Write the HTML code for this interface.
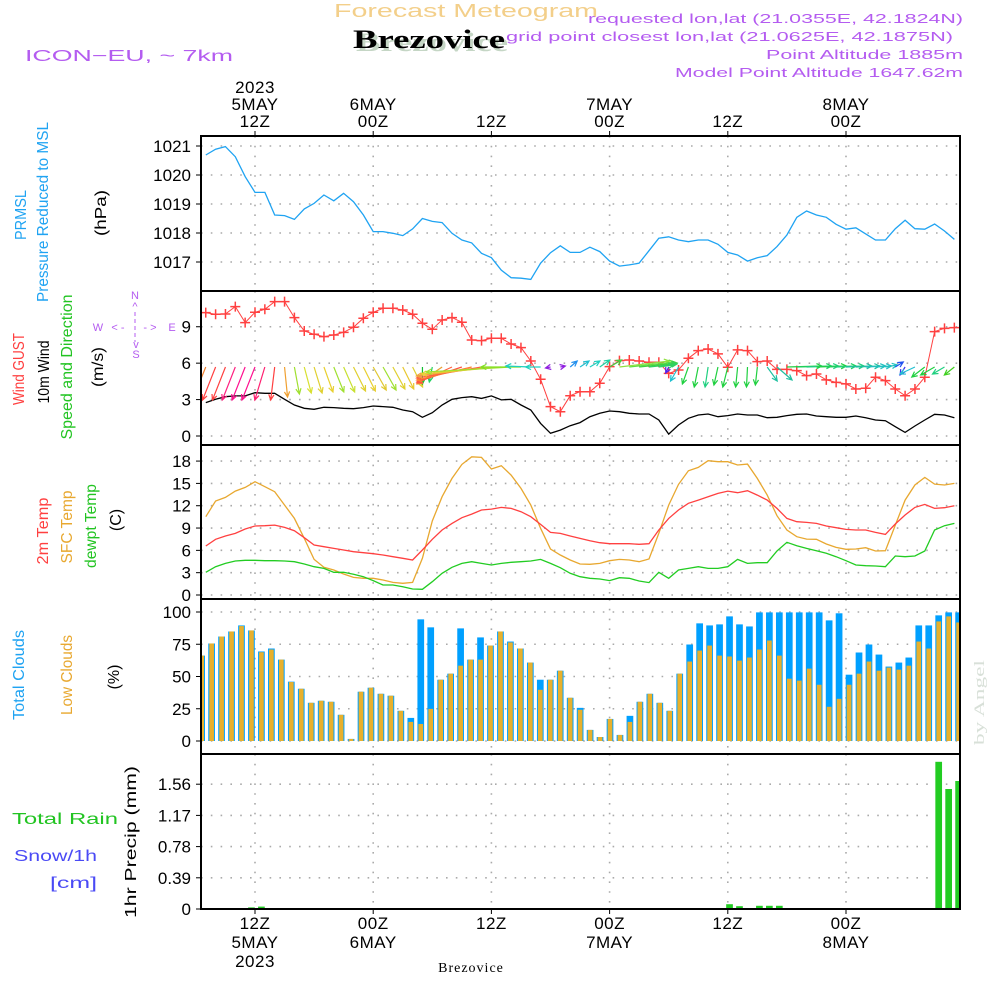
<!DOCTYPE html>
<html><head><meta charset="utf-8"><title>Meteogram Brezovice</title>
<style>
html,body{margin:0;padding:0;background:#fff;}
svg{display:block;font-family:"Liberation Sans",sans-serif;}
</style></head>
<body>
<svg id="chart" width="1000" height="1000" viewBox="0 0 1000 1000" xmlns="http://www.w3.org/2000/svg">
<defs>
<clipPath id="cp1"><rect x="201" y="136" width="759" height="155"/></clipPath>
<clipPath id="cp2"><rect x="201" y="291" width="759" height="154"/></clipPath>
<clipPath id="cp3"><rect x="201" y="445" width="759" height="154"/></clipPath>
<clipPath id="cp4"><rect x="201" y="599" width="759" height="155"/></clipPath>
<clipPath id="cp5"><rect x="201" y="754" width="759" height="155"/></clipPath>
</defs>
<rect width="1000" height="1000" fill="#fff"/>
<!-- header texts -->
<text x="334" y="17" font-size="18" fill="#f3cf8a" textLength="264" lengthAdjust="spacingAndGlyphs">Forecast Meteogram</text>
<text x="356" y="51" font-family="'Liberation Serif',serif" font-weight="bold" font-size="26" fill="#c5d6c5" textLength="152" lengthAdjust="spacingAndGlyphs">Brezovice</text>
<text x="353" y="48" font-family="'Liberation Serif',serif" font-weight="bold" font-size="26" fill="#000" textLength="152" lengthAdjust="spacingAndGlyphs">Brezovice</text>
<text x="25" y="61" font-size="16" fill="#b45cf0" textLength="208" lengthAdjust="spacingAndGlyphs">ICON−EU, ~ 7km</text>
<text x="588" y="23" font-size="13" fill="#b45cf0" textLength="375" lengthAdjust="spacingAndGlyphs">requested lon,lat (21.0355E, 42.1824N)</text>
<text x="506" y="41" font-size="13" fill="#b45cf0" textLength="447" lengthAdjust="spacingAndGlyphs">grid point closest lon,lat (21.0625E, 42.1875N)</text>
<text x="766" y="59" font-size="13" fill="#b45cf0" textLength="197" lengthAdjust="spacingAndGlyphs">Point Altitude 1885m</text>
<text x="675" y="77" font-size="13" fill="#b45cf0" textLength="288" lengthAdjust="spacingAndGlyphs">Model Point Altitude 1647.62m</text>
<g id="grid"></g>
<g id="marks"></g>
<g id="frames"></g>
<g id="labels"></g>
<!-- left labels -->
<g font-size="16">
<text transform="translate(26,215) rotate(-90)" text-anchor="middle" fill="#1fa3f2" textLength="50" lengthAdjust="spacingAndGlyphs">PRMSL</text>
<text transform="translate(48,212) rotate(-90)" text-anchor="middle" fill="#1fa3f2" textLength="180" lengthAdjust="spacingAndGlyphs">Pressure Reduced to MSL</text>
<text transform="translate(106,213) rotate(-90)" text-anchor="middle" fill="#000" textLength="46" lengthAdjust="spacingAndGlyphs">(hPa)</text>
<text transform="translate(24,369) rotate(-90)" text-anchor="middle" fill="#ff4040" textLength="72" lengthAdjust="spacingAndGlyphs">Wind GUST</text>
<text transform="translate(49,372) rotate(-90)" text-anchor="middle" fill="#000" textLength="63" lengthAdjust="spacingAndGlyphs">10m Wind</text>
<text transform="translate(72,367) rotate(-90)" text-anchor="middle" fill="#22c422" textLength="145" lengthAdjust="spacingAndGlyphs">Speed and Direction</text>
<text transform="translate(103,367) rotate(-90)" text-anchor="middle" fill="#000" textLength="40" lengthAdjust="spacingAndGlyphs">(m/s)</text>
<text transform="translate(48,531) rotate(-90)" text-anchor="middle" fill="#ff4040" textLength="67" lengthAdjust="spacingAndGlyphs">2m Temp</text>
<text transform="translate(72,527) rotate(-90)" text-anchor="middle" fill="#e8a830" textLength="73" lengthAdjust="spacingAndGlyphs">SFC Temp</text>
<text transform="translate(96,526) rotate(-90)" text-anchor="middle" fill="#22c422" textLength="84" lengthAdjust="spacingAndGlyphs">dewpt Temp</text>
<text transform="translate(121,520) rotate(-90)" text-anchor="middle" fill="#000">(C)</text>
<text transform="translate(24,675) rotate(-90)" text-anchor="middle" fill="#1fa3f2" textLength="90" lengthAdjust="spacingAndGlyphs">Total Clouds</text>
<text transform="translate(72,675) rotate(-90)" text-anchor="middle" fill="#e8a830" textLength="80" lengthAdjust="spacingAndGlyphs">Low Clouds</text>
<text transform="translate(119,677) rotate(-90)" text-anchor="middle" fill="#000">(%)</text>
<text transform="translate(136,842) rotate(-90)" text-anchor="middle" fill="#000" textLength="152" lengthAdjust="spacingAndGlyphs">1hr Precip (mm)</text>
<text x="12" y="824" fill="#22c422" textLength="106" lengthAdjust="spacingAndGlyphs">Total   Rain</text>
<text x="14" y="861" fill="#4a4af5" textLength="83" lengthAdjust="spacingAndGlyphs">Snow/1h</text>
<text x="50" y="888" fill="#4a4af5" textLength="47" lengthAdjust="spacingAndGlyphs">[cm]</text>
</g>
<g font-size="11" fill="#b45cf0" text-anchor="middle">
<text x="135" y="299">N</text><text x="135" y="310">^</text>
<text x="136" y="358">S</text><text x="136" y="348">v</text>
<text x="98" y="331">W</text><text x="172" y="331">E</text>
<text x="118" y="331">&lt; -</text><text x="150" y="331">- &gt;</text>
<line x1="135" y1="312" x2="135" y2="342" stroke="#b45cf0" stroke-dasharray="4,3"/>
</g>
<text transform="translate(984,745) rotate(-90)" font-family="'Liberation Serif',serif" font-size="15" fill="#d8e0d8" textLength="85" lengthAdjust="spacingAndGlyphs">by Angel</text>
<text x="471" y="972" text-anchor="middle" font-family="'Liberation Serif',serif" font-size="14" fill="#000" letter-spacing="1">Brezovice</text>
<script>
// ---- data (hourly from 07Z 5 May) ----
const pressure = [1020.69,1020.89,1020.98,1020.63,1019.94,1019.40,1019.40,1018.62,1018.60,1018.47,1018.83,1019.02,1019.31,1019.11,1019.37,1019.08,1018.62,1018.05,1018.05,1017.99,1017.91,1018.14,1018.50,1018.40,1018.36,1017.99,1017.76,1017.66,1017.30,1017.15,1016.72,1016.46,1016.44,1016.40,1016.96,1017.32,1017.56,1017.33,1017.33,1017.51,1017.36,1017.03,1016.86,1016.90,1016.96,1017.39,1017.82,1017.87,1017.76,1017.70,1017.76,1017.76,1017.61,1017.33,1017.24,1017.03,1017.15,1017.22,1017.53,1017.93,1018.54,1018.76,1018.62,1018.54,1018.30,1018.13,1018.18,1017.97,1017.76,1017.76,1018.15,1018.44,1018.15,1018.13,1018.31,1018.07,1017.78];
const windSpeed = [2.75,3.02,3.24,3.30,3.30,3.57,3.52,3.52,3.02,2.55,2.28,2.20,2.36,2.34,2.28,2.25,2.34,2.47,2.42,2.36,2.14,2.00,1.54,1.92,2.55,3.02,3.16,3.24,3.10,3.30,2.97,3.02,2.55,2.14,1.04,0.22,0.49,0.85,1.10,1.59,1.87,2.06,2.00,1.87,1.81,1.81,1.32,0.16,0.91,1.46,1.73,1.81,1.59,1.68,1.81,1.73,1.73,1.51,1.54,1.68,1.79,1.81,1.65,1.59,1.54,1.54,1.65,1.51,1.32,1.26,0.77,0.30,0.82,1.32,1.79,1.73,1.51];
const windGust = [10.16,10.03,10.05,10.66,9.34,10.19,10.44,11.07,11.07,9.75,8.65,8.38,8.19,8.32,8.54,8.96,9.70,10.19,10.52,10.52,10.38,10.03,9.29,8.79,9.56,9.75,9.37,7.91,7.86,8.05,8.05,7.58,7.28,6.18,4.67,2.42,2.00,3.32,3.65,3.65,4.34,5.71,6.21,6.26,6.18,6.07,6.07,5.16,5.44,6.40,7.03,7.17,6.76,5.66,7.09,7.03,6.13,6.18,5.49,5.49,5.38,4.97,5.11,4.62,4.42,4.29,3.87,3.93,4.84,4.56,3.87,3.32,3.87,4.84,8.60,8.87,8.93];
const windU = [-1.2,-1.3,-1.3,-1.3,-1.3,-1.3,-1.0,-0.4,0.3,0.5,0.7,0.8,0.9,1.0,1.1,1.2,1.2,1.3,1.3,1.2,1.1,1.0,0,-0.3,-2.5,-3.5,-4.5,-5.5,-6.5,-7.5,-8.0,-8.5,-4.0,-2.5,-1.5,-0.5,0.5,0.7,0.9,1.0,1.0,1.2,5.0,4.5,3.8,2.8,1.5,-0.3,-0.8,-0.6,-0.4,-0.3,-0.4,-0.5,-0.2,-0.1,-0.2,1.0,1.5,3.5,3.5,3.2,3.0,3.0,2.8,2.6,2.4,2.0,1.6,1.2,0.8,-0.5,-1.5,-1.3,-1.4,-1.2,-1.0];
const windV = [-3.0,-3.3,-3.3,-3.3,-3.3,-3.3,-3.3,-3.3,-3.0,-2.7,-2.6,-2.6,-2.5,-2.5,-2.5,-2.4,-2.4,-2.3,-2.3,-2.2,-2.2,-2.0,-1.7,-1.5,-1.7,-1.6,-1.5,-1.3,-1.1,-0.9,-0.7,-0.5,0,0.1,0,-0.1,0.1,0.6,0.6,0.6,0.7,0.7,0.6,0.5,0.4,0.3,0.2,-0.6,-1.4,-1.7,-2.0,-2.0,-1.8,-2.0,-2.0,-2.0,-1.8,-1.4,-1.3,0.1,0.1,0.1,0.1,0.1,0.1,0.1,0.1,0.1,0.1,0.2,0.5,-0.8,-0.7,-1.0,-0.8,-0.7,-0.8];
const windColor = ["#f08030","#ff4040","#ff4040","#ff2080","#ff1090","#ff1090","#ff2070","#ff4040","#f0a030","#a0e030","#d8e030","#e0d030","#e8d030","#a0e030","#c8e030","#e0d030","#e8d030","#e0c830","#a0e030","#e0d030","#e8c830","#e0d030","#10c030","#20d060","#e8a030","#ff6040","#ff5040","#ff8030","#ff6040","#f0a040","#e8d030","#a0e030","#80e020","#20d0c0","#20d0c0","#9020e0","#9020e0","#2090f0","#20c0d0","#20d0c0","#20d0a0","#40d040","#90e040","#60e040","#40d040","#30d060","#30d060","#5020f0","#20c0d0","#20d040","#20d040","#20d080","#20d040","#20d040","#20d040","#20d040","#20d040","#20c0a0","#20c0a0","#20d040","#20d060","#20d080","#20d040","#20d060","#20d080","#20c0a0","#20c0a0","#20c0c0","#20c0c0","#20c0c0","#2050f0","#4030f0","#20c0d0","#20d040","#20d040","#20d080","#40d020"];
const temp2m = [6.58,7.48,7.93,8.28,8.87,9.27,9.31,9.40,9.09,8.64,7.70,6.72,6.49,6.27,6.05,5.82,5.69,5.55,5.37,5.15,4.93,4.70,6.05,7.48,8.73,9.63,10.39,10.88,11.42,11.55,11.78,11.64,11.20,10.52,9.49,8.42,8.28,7.93,7.61,7.30,7.03,6.90,6.90,6.90,6.81,6.90,8.73,10.30,11.42,12.32,12.76,13.21,13.66,13.97,13.75,14.02,13.43,12.76,11.64,10.30,9.85,9.76,9.63,9.27,9.05,8.82,8.73,8.73,8.42,8.15,9.54,10.75,11.78,12.18,11.64,11.73,12.00];
const tempSfc = [10.52,12.63,13.12,13.97,14.46,15.23,14.55,13.88,12.09,10.30,7.61,4.79,3.72,3.36,2.82,2.37,2.24,2.24,2.02,1.70,1.57,1.70,4.93,9.94,13.21,15.67,17.55,18.58,18.50,16.93,17.38,16.12,14.33,12.09,8.96,6.18,5.37,4.70,4.16,4.12,4.25,4.61,4.79,4.70,4.48,4.84,8.28,12.09,14.87,16.70,17.15,18.05,17.91,17.91,17.47,17.60,15.67,13.43,10.66,8.73,7.84,7.52,7.48,6.85,6.40,6.14,6.18,6.36,5.91,5.96,9.40,12.76,14.78,15.81,14.91,14.78,15.00];
const dewpoint = [3.05,3.81,4.25,4.57,4.66,4.66,4.61,4.61,4.57,4.48,4.16,3.81,3.58,3.05,3.05,2.78,2.46,1.93,1.34,1.34,1.12,0.81,0.76,1.79,2.91,3.72,4.25,4.48,4.25,4.03,4.25,4.39,4.48,4.57,4.79,4.25,3.67,2.91,2.46,2.24,2.15,1.93,2.33,2.24,1.88,1.66,3.05,2.24,3.36,3.58,3.81,3.58,3.58,3.81,4.79,4.25,4.34,4.34,5.91,7.08,6.63,6.27,5.96,5.60,5.15,4.61,4.03,3.94,3.90,3.81,5.24,5.15,5.24,5.91,8.73,9.31,9.63];
// bars (hourly from 06Z 5 May)
const totalClouds = [66.2,75.6,81.0,84.9,89.6,85.7,69.4,71.7,63.1,46.0,40.5,29.6,31.2,30.4,20.3,1.6,38.2,41.3,36.6,35.1,23.4,17.9,94.3,88.1,47.5,52.2,87.3,63.1,80.3,74.0,84.9,77.1,71.7,60.8,47.5,47.5,54.5,33.5,25.7,8.6,3.1,17.1,4.7,19.5,30.4,36.6,29.6,23.4,52.2,74.8,91.2,89.6,90.4,96.6,90.4,88.8,99.7,99.7,99.7,99.7,99.7,99.7,99.7,93.5,99.0,51.4,68.6,74.8,67.0,57.7,60.8,64.7,89.6,89.6,97.4,99.7,99.7];
const lowClouds = [66.2,75.6,81.0,84.9,89.1,85.7,68.8,70.9,63.1,45.7,40.5,29.6,31.2,30.4,20.3,1.6,38.2,41.3,36.6,35.1,23.4,14.8,13.2,24.9,47.5,52.2,58.4,63.1,63.1,74.0,84.9,76.4,71.7,60.8,39.7,47.5,54.5,33.5,24.2,8.6,3.1,17.1,4.7,14.8,30.4,36.6,29.6,23.4,52.2,61.6,70.1,74.0,66.2,65.5,62.3,64.7,70.9,77.9,66.2,48.3,46.8,56.1,43.6,26.5,32.7,43.6,52.2,61.6,54.5,56.9,55.3,58.4,77.1,71.7,92.7,96.6,91.9];
const precip = [0,0,0,0,0,0.02,0.03,0,0,0,0,0,0,0,0,0,0,0,0,0,0,0,0,0,0,0,0,0,0,0,0,0,0,0,0,0,0,0,0,0,0,0,0,0,0,0,0,0,0,0,0,0,0,0.06,0.035,0,0.04,0.04,0.04,0,0,0,0,0,0,0,0,0,0,0,0,0,0,0.01,1.84,1.50,1.60];
const pTicks = [1017,1018,1019,1020,1021];
const wTicks = [0,3,6,9];
const tTicks = [0,3,6,9,12,15,18];
const cTicks = [0,25,50,75,100];
const rTicks = [0,0.39,0.78,1.17,1.56];
const timeTicks = [12,24,36,48,60,72];
const topLabels = [["2023","5MAY","12Z"],["","6MAY","00Z"],["","","12Z"],["","7MAY","00Z"],["","","12Z"],["","8MAY","00Z"]];
const botLabels = [["12Z","5MAY","2023"],["00Z","6MAY",""],["12Z","",""],["00Z","7MAY",""],["12Z","",""],["00Z","8MAY",""]];

// ---- axis functions ----
const NS="http://www.w3.org/2000/svg";
const x = t => 255 + (t-12)*9.85;
const xBar = t => 198.3 + (t-6)*9.96;
const yP = v => 146 + (1021-v)*29;
const yW = v => 436 - v*12.14;
const yT = v => 595 - v*7.44;
const yC = v => 741 - v*1.29;
const yR = v => 909 - v*80;
const tLine = i => 7+i;
const tBar = k => 6+k;
const panels=[[136,291],[291,445],[445,599],[599,754],[754,909]];

function el(tag,attrs,parent){const e=document.createElementNS(NS,tag);for(const k in attrs)e.setAttribute(k,attrs[k]);parent.appendChild(e);return e;}
const grid=document.getElementById('grid'), marks=document.getElementById('marks'), frames=document.getElementById('frames'), labels=document.getElementById('labels');

const dot={stroke:"#aaa","stroke-width":1.6,"stroke-dasharray":"1.6,8.2"};
panels.forEach((p,pi)=>{
  timeTicks.forEach(t=>{
    const g=el('line',Object.assign({x1:x(t),x2:x(t),y1:p[0],y2:p[1]},dot),grid);
    
    
  });
});
function hgrid(ticks,yf,fmt){
  ticks.forEach(v=>{
    const g=el('line',Object.assign({x1:201,x2:960,y1:yf(v),y2:yf(v)},dot),grid);
    
    
    const tk=el('line',{x1:196,x2:201,y1:yf(v),y2:yf(v),stroke:"#000","stroke-width":1},frames);
    
    
    const tx=el('text',{x:191,y:yf(v)+6,"text-anchor":"end","font-size":17,fill:"#000"},labels);
    tx.textContent=fmt(v);
    
    
  });
}
hgrid(pTicks,yP,v=>String(v));
hgrid(wTicks,yW,v=>String(v));
hgrid(tTicks,yT,v=>String(v));
hgrid(cTicks,yC,v=>String(v));
hgrid(rTicks,yR,v=>String(v));

function line(arr,xf,yf,color,clip,name,w){
  const pts=arr.map((v,i)=>xf(tLine(i)).toFixed(1)+","+yf(v).toFixed(1)).join(" ");
  const p=el('polyline',{points:pts,fill:"none",stroke:color,"stroke-width":w||1.3,"clip-path":"url(#"+clip+")"},marks);
  
  
}
line(pressure,x,yP,"#1fa3f2","cp1","pressure-line");
line(windSpeed,x,yW,"#000","cp2","wind-speed-line");
line(windGust,x,yW,"#ff4040","cp2","wind-gust-line",1);
windGust.forEach((v,i)=>{
  const cx=x(tLine(i)),cy=yW(v);
  const m=el('path',{d:`M${cx-5},${cy}H${cx+5}M${cx},${cy-5}V${cy+5}`,stroke:"#ff4040","stroke-width":1.5,"clip-path":"url(#cp2)"},marks);
  
  
});
windU.forEach((u,i)=>{
  const x0=x(tLine(i)),y0=367;
  const x1=x0+u*10,y1=y0-windV[i]*10;
  const a=Math.atan2(y1-y0,x1-x0),h=6,s=0.45;
  const d=`M${x0},${y0}L${x1},${y1}M${x1-h*Math.cos(a-s)},${y1-h*Math.sin(a-s)}L${x1},${y1}L${x1-h*Math.cos(a+s)},${y1-h*Math.sin(a+s)}`;
  const w=el('path',{d:d,fill:"none",stroke:windColor[i],"stroke-width":1.2,"clip-path":"url(#cp2)"},marks);
  
  
});
line(tempSfc,x,yT,"#e8a830","cp3","sfc-temp-line");
line(temp2m,x,yT,"#ff4040","cp3","temp-2m-line");
line(dewpoint,x,yT,"#22cc22","cp3","dewpoint-line");
totalClouds.forEach((v,k)=>{
  const bx=xBar(tBar(k));
  const b=el('rect',{x:bx,y:yC(v),width:6.7,height:yC(0)-yC(v),fill:"#00a0ff","clip-path":"url(#cp4)"},marks);
  
  
  const lv=lowClouds[k];
  const o=el('rect',{x:bx+1,y:yC(lv),width:4.7,height:yC(0)-yC(lv),fill:"#e8b02c","clip-path":"url(#cp4)"},marks);
  
  
});
precip.forEach((v,k)=>{
  if(v<=0) return;
  const r=el('rect',{x:xBar(tBar(k)),y:yR(v),width:6.7,height:yR(0)-yR(v),fill:"#22cc22","clip-path":"url(#cp5)"},marks);
  
  
});
panels.forEach(p=>{
  const f=el('rect',{x:201,y:p[0],width:759,height:p[1]-p[0],fill:"none",stroke:"#000","stroke-width":2},frames);
  
  
});
timeTicks.forEach((t,j)=>{
  const tt=el('line',{x1:x(t),x2:x(t),y1:131,y2:136,stroke:"#000"},frames);
  
  
  const bt=el('line',{x1:x(t),x2:x(t),y1:909,y2:914,stroke:"#000"},frames);
  
  
  [93,110,127].forEach((yy,r)=>{
    const s=topLabels[j][r]; if(!s) return;
    const tx=el('text',{x:x(t),y:yy,"text-anchor":"middle","font-size":17,fill:"#000","letter-spacing":0.5},labels);
    tx.textContent=s;
    
    
  });
  [929,948,967].forEach((yy,r)=>{
    const s=botLabels[j][r]; if(!s) return;
    const tx=el('text',{x:x(t),y:yy,"text-anchor":"middle","font-size":17,fill:"#000","letter-spacing":0.5},labels);
    tx.textContent=s;
    
    
  });
});
</script>
</svg>
</body></html>
